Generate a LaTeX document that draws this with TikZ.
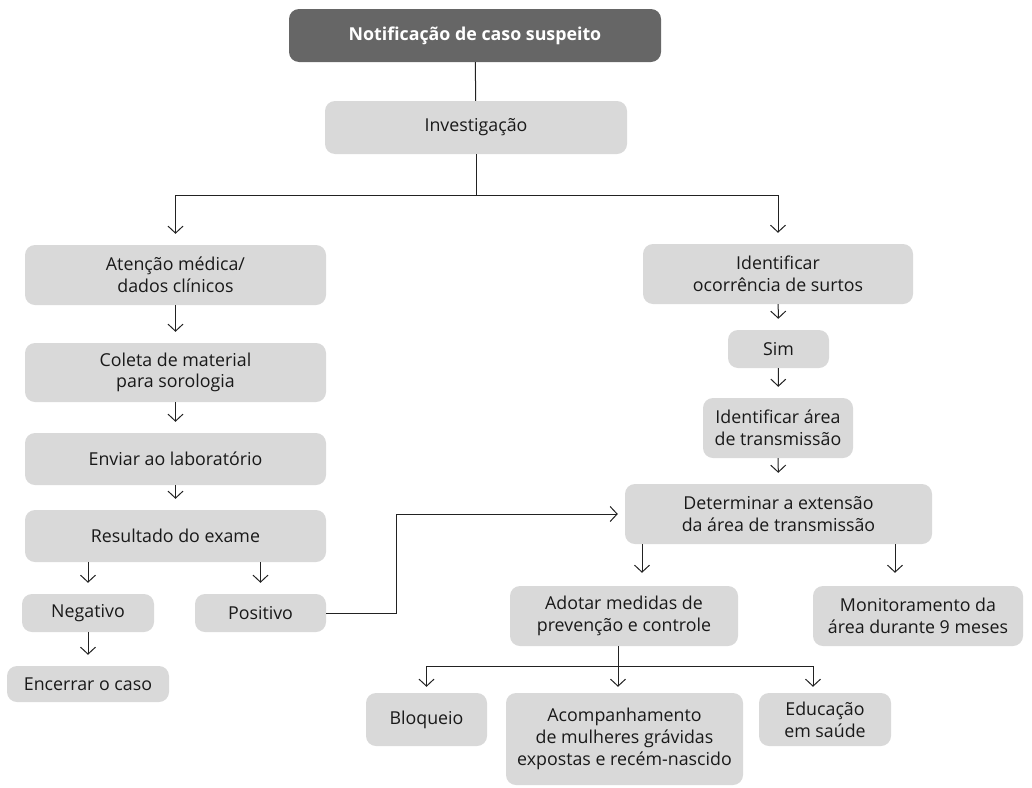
\documentclass[tikz,border=0pt]{standalone}
\usepackage{fontspec}
\setmainfont{Open Sans}
\usetikzlibrary{arrows.meta}
\definecolor{boxgray}{HTML}{D9D9D9}
\definecolor{topgray}{HTML}{666666}
\definecolor{linegray}{HTML}{222222}
\begin{document}
\begin{tikzpicture}[x=1pt,y=-1pt,font=\fontsize{17.8}{21.7}\selectfont,
		box/.style={fill=boxgray,rounded corners=10pt,align=center,inner sep=0pt,text=black!90},
		dark/.style={fill=topgray,text=white,font=\fontsize{17.8}{21.7}\selectfont\bfseries},
		sz/.style 2 args={minimum width=#1pt,minimum height=#2pt},
		ln/.style={line width=1pt,draw=linegray},
		arr/.style={ln,-{Straight Barb[length=7pt,width=15pt]},shorten >=11pt}]
	\useasboundingbox (0,0) rectangle (1032,787);
	% left branch
	\node[box,dark,sz={372}{53}] (notif) at (475,35.5) {Notificação de caso suspeito};
	\node[box,sz={302}{53}] (invest) at (476,127.5) {Investigação};
	\node[box,sz={301}{60}] (atencao) at (175.5,275) {Atenção médica/\\dados clínicos};
	\node[box,sz={301}{59}] (coleta) at (175.5,372.5) {Coleta de material\\para sorologia};
	\node[box,sz={301}{52}] (enviar) at (175.5,459) {Enviar ao laboratório};
	\node[box,sz={301}{52}] (result) at (175.5,536) {Resultado do exame};
	\node[box,sz={132}{38}] (neg) at (88,613) {Negativo};
	\node[box,sz={131}{38}] (pos) at (260.5,613) {Positivo};
	\node[box,sz={162}{36}] (encerrar) at (88,684) {Encerrar o caso};
	% right branch
	\node[box,sz={270}{60}] (surtos) at (778,274) {Identificar\\ocorrência de surtos};
	\node[box,sz={101}{38}] (sim) at (778.5,349) {Sim};
	\node[box,sz={150}{60}] (area) at (778,428) {Identificar área\\de transmissão};
	\node[box,sz={307}{60}] (extensao) at (778.5,514) {Determinar a extensão\\da área de transmissão};
	\node[box,sz={228}{60}] (medidas) at (624,616) {Adotar medidas de\\prevenção e controle};
	\node[box,sz={210}{60}] (monit) at (918,616) {Monitoramento da\\área durante 9 meses};
	\node[box,sz={121}{53}] (bloq) at (426.5,719.5) {Bloqueio};
	\node[box,sz={237}{92}] (acomp) at (624.5,739) {Acompanhamento\\de mulheres grávidas\\expostas e recém-nascido};
	\node[box,sz={132}{53}] (educ) at (825,719.5) {Educação\\em saúde};
	% connectors
	\draw[ln] (notif) -- (invest);
	\draw[ln] (invest.south) -- (invest.south |- 0,195) coordinate (split);
	\draw[arr] (split) -| (atencao);
	\draw[arr] (split) -| (surtos);
	\foreach \a/\b in {atencao/coleta,coleta/enviar,enviar/result,neg/encerrar,surtos/sim,sim/area,area/extensao}
		\draw[arr] (\a) -- (\b);
	\draw[arr] (result.south -| neg) -- (neg);
	\draw[arr] (result.south -| pos) -- (pos);
	\draw[arr,shorten >=7pt] (pos.east) -- ++(70,0) |- (extensao);
	\draw[arr,shorten >=13pt] ([xshift=18pt]medidas.north |- extensao.south) -- ([xshift=18pt]medidas.north);
	\draw[arr,shorten >=13pt] ([xshift=-23pt]monit.north |- extensao.south) -- ([xshift=-23pt]monit.north);
	\draw[ln] ([xshift=-6pt]medidas.south) -- ++(0,20) coordinate (split2);
	\draw[arr,shorten >=6pt] (split2) -| (bloq);
	\draw[arr,shorten >=6pt] (split2) -- (split2 |- acomp.north);
	\draw[arr,shorten >=6pt] (split2) -| ([xshift=-12pt]educ.north);
\end{tikzpicture}
\end{document}
